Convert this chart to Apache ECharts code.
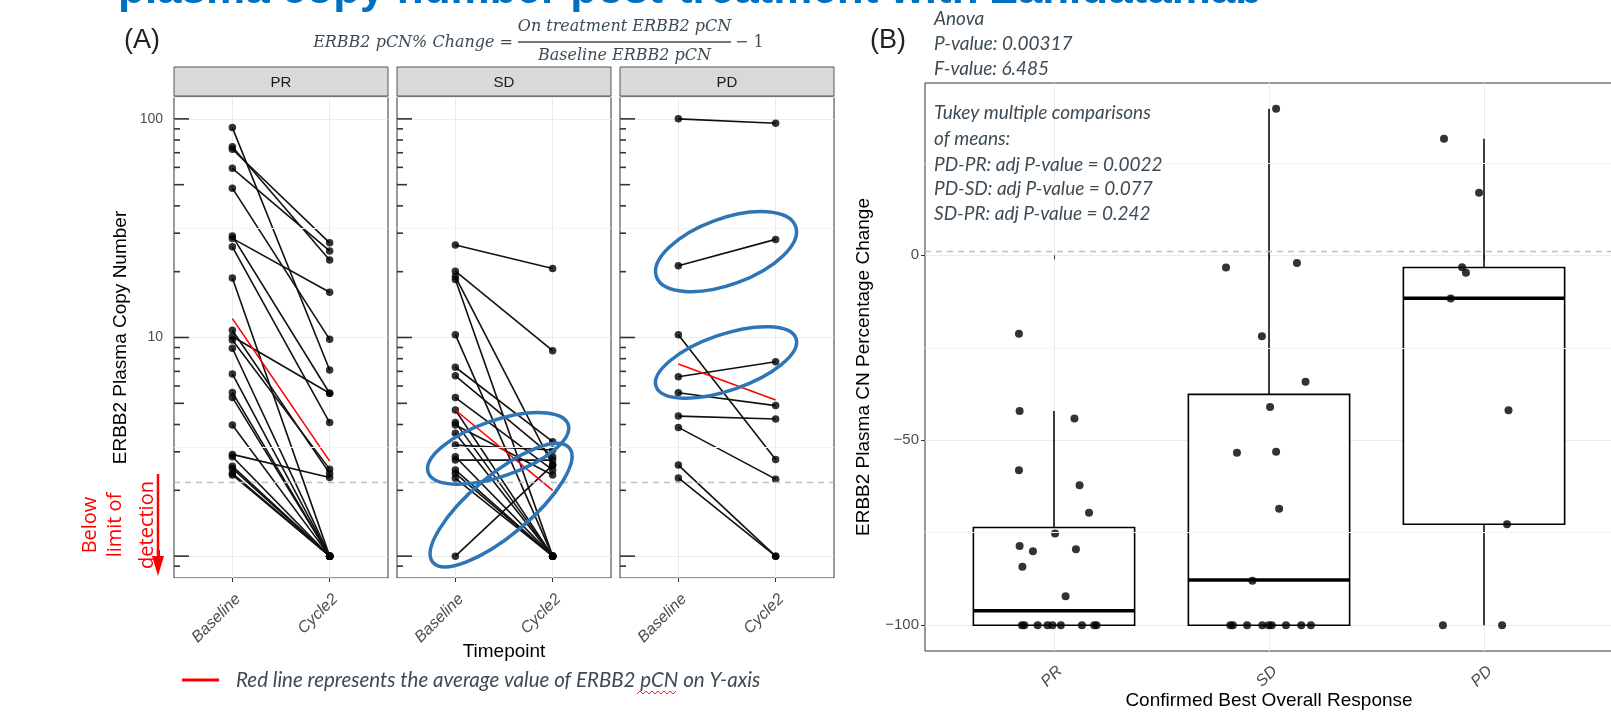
<!DOCTYPE html>
<html><head><meta charset="utf-8">
<script src="https://cdn.jsdelivr.net/npm/echarts@6/dist/echarts.min.js"></script>
<style>html,body{margin:0;padding:0;background:#fff}#c{width:1611px;height:712px}</style>
</head><body><div id="c"></div>
<script>
// ================= DATA =================
const timepoints = ['Baseline', 'Cycle2'];
const facetNames = ['PR', 'SD', 'PD'];
// Panel A: ERBB2 plasma copy number per patient
const prBaseline = [91.2, 74.6, 72.6, 59.4, 48.2, 29.1, 28.4, 26.0, 18.7, 10.8, 10.1, 9.75, 8.93, 6.81, 5.61, 5.32, 3.98, 2.92, 2.85, 2.58, 2.52, 2.39, 2.35];
const prCycle2   = [7.10, 22.6, 27.1, 24.9, 9.81, 5.56, 16.1, 4.08, 1, 2.39, 5.56, 2.50, 1, 1, 1, 1, 1, 2.29, 1, 1, 1, 1, 1];
const sdBaseline = [26.5, 20.1, 19.0, 10.3, 7.31, 6.68, 5.31, 4.66, 4.09, 3.98, 3.65, 3.22, 2.85, 2.75, 2.48, 2.39, 2.27, 18.4, 1.0];
const sdCycle2   = [20.7, 8.70, 2.61, 1, 3.34, 2.85, 2.48, 1, 1, 2.35, 1, 3.06, 1, 2.75, 1, 1, 1, 1, 2.61];
const pdBaseline = [100, 21.3, 10.3, 6.62, 5.59, 4.37, 3.88, 2.61, 2.28];
const pdCycle2   = [95.5, 28.1, 2.77, 7.75, 4.88, 4.24, 2.25, 1, 1];
const prMean = [12.2, 2.72];
const sdMean = [4.66, 2.0];
const pdMean = [7.56, 5.18];
const detectionLimit = 2.18;
const yTickLabelsA = [1, 10, 100];
const logTickMajor = [1, 10, 100];
const logTickMid = [5, 50];
const logTickMinor = [0.9, 2, 3, 4, 6, 7, 8, 9, 20, 30, 40, 60, 70, 80, 90];
const logMinorGrid = [3.162, 31.62];
// circled groups: centres in data units (timepoint position, copy number)
const sdCircles = [[1.44, 3.11], [1.47, 1.71]];
const pdCircles = [[1.49, 24.7], [1.49, 7.69]];

// Panel B: percentage change by best overall response
const responseCats = ['PR', 'SD', 'PD'];
const prChange = [-21.2, -42.1, -44.1, -58.1, -62.2, -69.6, -75.2, -78.6, -80.0, -79.5, -84.2, -92.2, -100, -100, -100, -100, -100, -100, -100, -100, -100];
const prJitter = [-0.163, -0.160, 0.095, -0.163, 0.119, 0.163, 0.005, -0.160, -0.098, 0.102, -0.147, 0.054, -0.149, -0.138, -0.076, -0.030, -0.007, 0.032, 0.130, 0.187, 0.198];
const sdChange = [39.6, -3.3, -2.1, -21.9, -34.2, -41.0, -53.4, -53.1, -68.5, -88.0, -100, -100, -100, -100, -100, -100, -100, -100, -100];
const sdJitter = [0.033, -0.200, 0.130, -0.033, 0.170, 0.005, -0.149, 0.033, 0.047, -0.077, -0.180, -0.168, -0.102, -0.031, -0.001, 0.013, 0.079, 0.150, 0.195];
const pdChange = [31.5, 16.9, -3.2, -4.7, -11.7, -41.9, -72.7, -100, -100];
const pdJitter = [-0.186, -0.023, -0.102, -0.084, -0.155, 0.114, 0.107, -0.191, 0.084];
// [min, Q1, median, Q3, max]
const boxStats = [
  [-100, -100, -96.1, -73.6, -42.1],
  [-100, -100, -87.8, -37.6, 39.6],
  [-100, -72.7, -11.6, -3.3, 31.5]
];
const yTicksB = [-100, -50, 0];
const yMinorB = [-75, -25, 25];
const refLineB = 1;

// ================= LAYOUT / STYLE =================
const A_LEFT = [174, 397, 620], A_TOP = 97, A_W = 214, A_H = 481;
const STRIP_TOP = 67, STRIP_H = 29;
const B_GRID = {left: 925, top: 83, width: 688, height: 568};
const FONT = 'Liberation Sans';
const NOTE_FONT = 'Lato';
const NOTE_COLOR = '#3d4b55';
const LOGTICK_LEN = [15, 10, 6];
const ELLIPSE_SIZE = {SD: [{a: 74, b: 28, rot: 19}, {a: 89, b: 30, rot: 40}],
                      PD: [{a: 74, b: 33, rot: 20}, {a: 74, b: 28, rot: 19}]};
const BOX_HALF = 0.375;

const panelsA = [
  {name: 'PR', base: prBaseline, c2: prCycle2, mean: prMean, circles: null},
  {name: 'SD', base: sdBaseline, c2: sdCycle2, mean: sdMean, circles: sdCircles},
  {name: 'PD', base: pdBaseline, c2: pdCycle2, mean: pdMean, circles: pdCircles}
];

const logTickData = [].concat(
  logTickMajor.map(v => [0.4, v, 0]),
  logTickMid.map(v => [0.4, v, 1]),
  logTickMinor.map(v => [0.4, v, 2])
);

function isLabelValue(v, list) {
  return list.some(t => Math.abs(t - v) / t < 1e-6);
}

const grids = [], xAxes = [], yAxes = [], series = [];

panelsA.forEach((p, i) => {
  grids.push({left: A_LEFT[i], top: A_TOP, width: A_W, height: A_H, show: true, outerBoundsMode: 'none',
    containLabel: false, borderColor: '#333', borderWidth: 1, backgroundColor: '#fff'});
  xAxes.push({
    type: 'value', gridIndex: i, min: 0.4, max: 2.6,
    axisLine: {show: false},
    axisTick: {show: true, customValues: [1, 2], length: 4, lineStyle: {color: '#333', width: 1}},
    axisLabel: {customValues: [1, 2], formatter: v => timepoints[Math.round(v) - 1] || '',
      rotate: 45, fontStyle: 'italic', color: '#4d4d4d', fontSize: 16, fontFamily: FONT,
      margin: 13, verticalAlign: 'top'},
    splitLine: {show: true, lineStyle: {color: '#ebebeb', width: 1}},
    name: i === 1 ? 'Timepoint' : '', nameLocation: 'middle', nameGap: 64, nameMoveOverlap: false,
    nameTextStyle: {color: '#000', fontSize: 19, fontFamily: FONT}
  });
  yAxes.push({
    type: 'log', logBase: 10, gridIndex: i, min: Math.pow(10, -0.1), max: Math.pow(10, 2.1),
    axisLine: {show: false}, axisTick: {show: false},
    axisLabel: {show: i === 0, formatter: v => isLabelValue(v, yTickLabelsA) ? String(Math.round(v)) : '',
      color: '#4d4d4d', fontSize: 14, fontFamily: FONT, margin: 11, showMinLabel: true, showMaxLabel: true},
    splitLine: {show: true, lineStyle: {color: '#ebebeb', width: 1}},
    name: i === 0 ? 'ERBB2 Plasma Copy Number' : '', nameLocation: 'middle', nameGap: 44, nameMoveOverlap: false,
    nameTextStyle: {color: '#000', fontSize: 19, fontFamily: FONT}
  });
  // background reference lines
  series.push({
    type: 'line', xAxisIndex: i, yAxisIndex: i, data: [], z: 1, silent: true,
    markLine: {silent: true, symbol: 'none', label: {show: false}, animation: false,
      data: logMinorGrid.map(v => ({yAxis: v, lineStyle: {color: '#f4f4f4', width: 1, type: 'solid'}}))
        .concat([{yAxis: detectionLimit, lineStyle: {color: '#bdbdbd', width: 1.3, type: [6, 5]}}])}
  });
  // patient lines
  series.push({
    type: 'custom', xAxisIndex: i, yAxisIndex: i, z: 2, silent: true,
    data: p.base.map((b, k) => [1, b, 2, p.c2[k]]),
    encode: {x: [0, 2], y: [1, 3]},
    renderItem: (params, api) => {
      const a = api.coord([api.value(0), api.value(1)]);
      const b = api.coord([api.value(2), api.value(3)]);
      return {type: 'line', shape: {x1: a[0], y1: a[1], x2: b[0], y2: b[1]},
        style: {stroke: '#111', lineWidth: 1.6}};
    }
  });
  // points
  series.push({
    type: 'scatter', xAxisIndex: i, yAxisIndex: i, z: 3, silent: true, symbolSize: 7.5,
    itemStyle: {color: '#000'},
    data: p.base.map(b => [1, b]).concat(p.c2.map(c => [2, c]))
  });
  // mean line
  series.push({
    type: 'line', xAxisIndex: i, yAxisIndex: i, z: 4, silent: true, showSymbol: false, symbol: 'none',
    lineStyle: {color: '#ff0000', width: 1.6},
    data: [[1, p.mean[0]], [2, p.mean[1]]]
  });
  // log ticks
  series.push({
    type: 'custom', xAxisIndex: i, yAxisIndex: i, z: 5, silent: true,
    data: logTickData, encode: {x: 0, y: 1},
    renderItem: (params, api) => {
      const pt = api.coord([api.value(0), api.value(1)]);
      const len = LOGTICK_LEN[api.value(2)];
      return {type: 'line', shape: {x1: pt[0], y1: pt[1], x2: pt[0] + len, y2: pt[1]},
        style: {stroke: '#333', lineWidth: 1.6}};
    }
  });
  if (p.circles) {
    series.push({
      type: 'custom', name: p.name, xAxisIndex: i, yAxisIndex: i, z: 6, silent: true,
      data: p.circles, encode: {x: 0, y: 1},
      renderItem: (params, api) => {
        const c = api.coord([api.value(0), api.value(1)]);
        const e = ELLIPSE_SIZE[params.seriesName][params.dataIndex];
        return {type: 'ellipse', x: c[0], y: c[1], rotation: e.rot * Math.PI / 180,
          shape: {cx: 0, cy: 0, rx: e.a, ry: e.b},
          style: {fill: 'none', stroke: '#2e75b6', lineWidth: 3.5}};
      }
    });
  }
});

// ---------- Panel B ----------
grids.push(Object.assign({show: true, outerBoundsMode: 'none', containLabel: false,
  borderColor: '#333', borderWidth: 1, backgroundColor: '#fff'}, B_GRID));
xAxes.push({
  type: 'value', gridIndex: 3, min: 0.4, max: 3.6,
  axisLine: {show: false},
  axisTick: {show: true, customValues: [1, 2, 3], length: 4, lineStyle: {color: '#333', width: 1}},
  axisLabel: {customValues: [1, 2, 3], formatter: v => responseCats[Math.round(v) - 1] || '',
    rotate: 45, fontStyle: 'italic', color: '#4d4d4d', fontSize: 16, fontFamily: FONT,
    margin: 12, verticalAlign: 'top'},
  splitLine: {show: true, lineStyle: {color: '#ebebeb', width: 1}},
  name: 'Confirmed Best Overall Response', nameLocation: 'middle', nameGap: 40, nameMoveOverlap: false,
  nameTextStyle: {color: '#000', fontSize: 19, fontFamily: FONT}
});
yAxes.push({
  type: 'value', gridIndex: 3, min: -106.98, max: 46.58,
  axisLine: {show: false},
  axisTick: {show: true, customValues: yTicksB, length: 4, lineStyle: {color: '#333', width: 1}},
  axisLabel: {customValues: yTicksB, formatter: v => v < 0 ? '\u2212' + Math.abs(v) : String(v),
    color: '#4d4d4d', fontSize: 15, fontFamily: FONT, margin: 6},
  splitLine: {show: true, lineStyle: {color: '#ebebeb', width: 1}},
  name: 'ERBB2 Plasma CN Percentage Change', nameLocation: 'middle', nameGap: 52, nameMoveOverlap: false,
  nameTextStyle: {color: '#000', fontSize: 19, fontFamily: FONT}
});
series.push({
  type: 'line', xAxisIndex: 3, yAxisIndex: 3, data: [], z: 1, silent: true,
  markLine: {silent: true, symbol: 'none', label: {show: false}, animation: false,
    data: yMinorB.map(v => ({yAxis: v, lineStyle: {color: '#f4f4f4', width: 1, type: 'solid'}}))
      .concat([{yAxis: refLineB, lineStyle: {color: '#bdbdbd', width: 1.3, type: [6, 5]}}])}
});
series.push({
  type: 'custom', xAxisIndex: 3, yAxisIndex: 3, z: 2, silent: true,
  data: boxStats.map((s, k) => [k + 1].concat(s)),
  encode: {x: 0, y: [1, 2, 3, 4, 5]},
  renderItem: (params, api) => {
    const x = api.value(0);
    const mn = api.value(1), q1 = api.value(2), md = api.value(3), q3 = api.value(4), mx = api.value(5);
    const tl = api.coord([x - BOX_HALF, q3]);
    const br = api.coord([x + BOX_HALF, q1]);
    const cm = api.coord([x, md]);
    const pMax = api.coord([x, mx]);
    const pMin = api.coord([x, mn]);
    const st = {stroke: '#000', lineWidth: 1.5};
    return {type: 'group', children: [
      {type: 'line', shape: {x1: cm[0], y1: tl[1], x2: cm[0], y2: pMax[1]}, style: st},
      {type: 'line', shape: {x1: cm[0], y1: br[1], x2: cm[0], y2: pMin[1]}, style: st},
      {type: 'rect', shape: {x: tl[0], y: tl[1], width: br[0] - tl[0], height: br[1] - tl[1]},
        style: {fill: '#fff', stroke: '#000', lineWidth: 1.6}},
      {type: 'line', shape: {x1: tl[0], y1: cm[1], x2: br[0], y2: cm[1]}, style: {stroke: '#000', lineWidth: 3.4}}
    ]};
  }
});
const bPoints = [].concat(
  prChange.map((v, k) => [1 + prJitter[k], v]),
  sdChange.map((v, k) => [2 + sdJitter[k], v]),
  pdChange.map((v, k) => [3 + pdJitter[k], v])
);
series.push({
  type: 'scatter', xAxisIndex: 3, yAxisIndex: 3, z: 3, silent: true, symbolSize: 8,
  itemStyle: {color: '#000'}, data: bPoints
});

// ---------- graphic annotations ----------
const graphics = [];
function txt(x, y, text, o) {
  graphics.push(Object.assign({type: 'text', x: x, y: y, z: 50,
    style: Object.assign({text: text, verticalAlign: 'middle', align: 'left'}, o.style)}, o.el || {}));
}
// cut-off slide title
txt(118, -9, 'plasma copy number post-treatment with Zanidatamab',
  {style: {fontSize: 44, fontWeight: 'bold', fontFamily: FONT, fill: '#0070c0'}});
txt(124, 41, '(A)', {style: {fontSize: 27, fontFamily: FONT, fill: '#222'}});
txt(870, 41, '(B)', {style: {fontSize: 27, fontFamily: FONT, fill: '#222'}});
// formula
const fStyle = {fontSize: 16, fontStyle: 'italic', fontFamily: 'DejaVu Serif', fill: NOTE_COLOR};
txt(513, 43, 'ERBB2 pCN% Change =', {style: Object.assign({align: 'right'}, fStyle)});
txt(624.5, 27, 'On treatment ERBB2 pCN', {style: Object.assign({align: 'center'}, fStyle)});
txt(624.5, 56, 'Baseline ERBB2 pCN', {style: Object.assign({align: 'center'}, fStyle)});
txt(735, 43, '\u2212 1', {style: Object.assign({}, fStyle, {fontStyle: 'normal'})});
graphics.push({type: 'line', z: 50, shape: {x1: 518, y1: 42, x2: 731, y2: 42}, style: {stroke: NOTE_COLOR, lineWidth: 1.5}});
// strips
A_LEFT.forEach((l, i) => {
  graphics.push({type: 'rect', z: 40, shape: {x: l, y: STRIP_TOP, width: A_W, height: STRIP_H},
    style: {fill: '#d9d9d9', stroke: '#555', lineWidth: 1}});
  txt(l + A_W / 2, STRIP_TOP + STRIP_H / 2 + 1, facetNames[i],
    {style: {align: 'center', fontSize: 15, fontFamily: FONT, fill: '#1a1a1a'}});
});
// stats notes
const noteStyle = {fontSize: 19, fontStyle: 'italic', fontFamily: NOTE_FONT, fill: NOTE_COLOR};
const captionStyle = {fontSize: 20.5, fontStyle: 'italic', fontFamily: NOTE_FONT, fill: NOTE_COLOR};
[['Anova', 19], ['P-value: 0.00317', 44], ['F-value: 6.485', 69]].forEach(r => txt(934, r[1], r[0], {style: noteStyle}));
[['Tukey multiple comparisons', 113], ['of means:', 139], ['PD-PR: adj P-value = 0.0022', 165],
 ['PD-SD: adj P-value = 0.077', 189], ['SD-PR: adj P-value = 0.242', 214]].forEach(r => txt(934, r[1], r[0], {style: noteStyle}));
// below limit of detection
const redStyle = {fontSize: 20, fontFamily: 'Open Sans', fill: '#ff0000', align: 'center'};
txt(90, 525, 'Below', {style: redStyle, el: {rotation: Math.PI / 2}});
txt(115, 525, 'limit of', {style: redStyle, el: {rotation: Math.PI / 2}});
txt(147, 525, 'detection', {style: redStyle, el: {rotation: Math.PI / 2}});
graphics.push({type: 'line', z: 50, shape: {x1: 158, y1: 474, x2: 158, y2: 560}, style: {stroke: '#ff0000', lineWidth: 2.5}});
graphics.push({type: 'polygon', z: 50, shape: {points: [[152, 556], [164, 556], [158, 576]]}, style: {fill: '#ff0000'}});
// caption
graphics.push({type: 'line', z: 50, shape: {x1: 182, y1: 680, x2: 219, y2: 680}, style: {stroke: '#ff0000', lineWidth: 3}});
txt(236, 680, 'Red line represents the average value of ERBB2 pCN on Y-axis', {style: captionStyle});
const squiggle = [];
for (let x = 637, k = 0; x <= 678; x += 3, k++) squiggle.push([x, k % 2 ? 691 : 694]);
graphics.push({type: 'polyline', z: 50, shape: {points: squiggle}, style: {stroke: '#e03030', lineWidth: 1, fill: null}});

const chart = echarts.init(document.getElementById('c'), null, {renderer: 'canvas'});
chart.setOption({
  animation: false,
  backgroundColor: '#fff',
  textStyle: {fontFamily: FONT},
  grid: grids, xAxis: xAxes, yAxis: yAxes, series: series,
  graphic: {elements: graphics}
});
</script></body></html>
